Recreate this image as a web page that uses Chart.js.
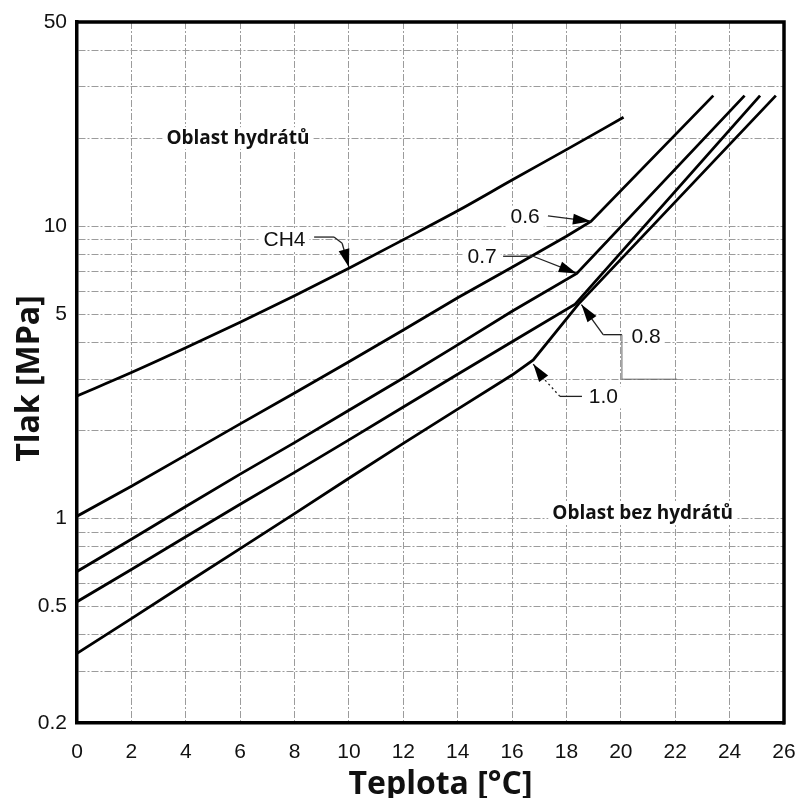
<!DOCTYPE html>
<html>
<head>
<meta charset="utf-8">
<script src="https://cdn.jsdelivr.net/npm/chart.js@4.4.1/dist/chart.umd.min.js"></script>
<style>
html,body{margin:0;padding:0;background:#fff;}
#wrap{width:801px;height:798px;position:relative;}
</style>
</head>
<body>
<div id="wrap"><canvas id="c" width="801" height="798"></canvas></div>
<script>
// ---- tick / grid values ----
const xTickValues = [0,2,4,6,8,10,12,14,16,18,20,22,24,26];
const yGridValues = [0.2,0.3,0.4,0.5,0.6,0.7,0.8,0.9,1,2,3,4,5,6,7,8,9,10,20,30,40,50];
const yLabelValues = [0.2,0.5,1,5,10,50];

// ---- series (temperature °C, pressure MPa) ----
const tempCH4 = [0,2,4,6,8,10,12,14,16,18,20.1];
const presCH4 = [2.63,3.16,3.84,4.7,5.79,7.19,9.0,11.3,14.4,18.3,23.6];

const temp06 = [0,2,4,6,8,10,12,14,16,18,18.9,23.4];
const pres06 = [1.02,1.29,1.65,2.11,2.69,3.44,4.42,5.7,7.25,9.25,10.4,28];

const temp07 = [0,2,4,6,8,10,12,14,16,18.38,24.55];
const pres07 = [0.66,0.85,1.1,1.42,1.82,2.35,3.03,3.93,5.12,6.9,28];

const temp08 = [0,2,4,6,8,10,12,14,16,18.32,25.12];
const pres08 = [0.52,0.67,0.867,1.12,1.44,1.86,2.41,3.12,4.03,5.42,28];

const temp10 = [0,2,4,6,8,10,12,14,16,16.78,18.44,25.7];
const pres10 = [0.346,0.455,0.6,0.79,1.04,1.375,1.81,2.37,3.1,3.49,5.42,28];

const seriesNames = ['CH4','0.6','0.7','0.8','1.0'];

// ---- annotations (data coordinates) ----
const annotationTexts = [
  {text:'Oblast hydrátů', x:5.92, y:19.1, kind:'region'},
  {text:'Oblast bez hydrátů', x:20.8, y:1.0, kind:'region'},
  {text:'CH4', x:7.63, y:8.56, kind:'label'},
  {text:'0.6', x:16.48, y:10.29, kind:'label'},
  {text:'0.7', x:14.9, y:7.47, kind:'label'},
  {text:'0.8', x:20.93, y:3.98, kind:'label'},
  {text:'1.0', x:19.36, y:2.48, kind:'label'}
];
const leaderLines = [
  {pts:[[8.72,9.19],[9.45,9.19],[9.75,8.75],[10,7.25]], arrow:true},
  {pts:[[17.32,10.85],[18.9,10.4]], arrow:true},
  {pts:[[15.67,7.9],[16.77,7.9],[18.38,6.9]], arrow:true},
  {pts:[[20.04,4.26],[19.35,4.26],[18.55,5.4]], arrow:true},
  {pts:[[20.04,4.26],[20.04,3.0],[22.07,3.0]], arrow:false, thin:true},
  {pts:[[17.76,2.62],[17.14,3.03],[16.78,3.38]], arrow:true, dotFirst:true},
  {pts:[[17.76,2.62],[18.57,2.62]], arrow:false}
];

function toXY(t, p){ return t.map((v,i)=>({x:v, y:p[i]})); }

const lineStyle = {borderColor:'#000', borderWidth:2.8, pointRadius:0, pointHoverRadius:0, fill:false, tension:0};

const drawPlugin = {
  id:'extras',
  afterDatasetsDraw(chart){
    const ctx = chart.ctx;
    const xs = chart.scales.x, ys = chart.scales.y;
    const px = v => xs.getPixelForValue(v);
    const py = v => ys.getPixelForValue(v);
    const a = chart.chartArea;
    ctx.save();
    // frame top / right
    ctx.strokeStyle = '#000';
    ctx.lineWidth = 3.5;
    ctx.beginPath();
    ctx.moveTo(a.left-1.5, a.top);
    ctx.lineTo(a.right, a.top);
    ctx.lineTo(a.right, a.bottom+1.5);
    ctx.stroke();

    // texts with white background
    annotationTexts.forEach(t=>{
      ctx.font = t.kind==='region' ? 'bold 19px "Open Sans"' : '21px "Liberation Sans"';
      ctx.textAlign = 'center';
      ctx.textBaseline = 'alphabetic';
      const w = ctx.measureText(t.text).width;
      const X = px(t.x), Y = py(t.y);
      ctx.fillStyle = '#fff';
      ctx.fillRect(X - w/2 - 4, Y - 17, w + 8, 22);
      ctx.fillStyle = '#111';
      ctx.fillText(t.text, X, Y);
    });

    // leader lines + arrows
    leaderLines.forEach(l=>{
      const P = l.pts.map(p=>[px(p[0]), py(p[1])]);
      ctx.strokeStyle = l.thin ? '#666' : '#222';
      ctx.lineWidth = l.thin ? 1 : 1.3;
      for(let i=0;i<P.length-1;i++){
        ctx.setLineDash(l.dotFirst && i===0 ? [2,3] : []);
        ctx.beginPath();
        ctx.moveTo(P[i][0],P[i][1]);
        ctx.lineTo(P[i+1][0],P[i+1][1]);
        ctx.stroke();
      }
      ctx.setLineDash([]);
      if(l.arrow){
        const n = P.length;
        const tip = P[n-1], prev = P[n-2];
        const ang = Math.atan2(tip[1]-prev[1], tip[0]-prev[0]);
        const L = 18, W = 5.5;
        ctx.fillStyle = '#000';
        ctx.beginPath();
        ctx.moveTo(tip[0], tip[1]);
        ctx.lineTo(tip[0] - L*Math.cos(ang) + W*Math.sin(ang), tip[1] - L*Math.sin(ang) - W*Math.cos(ang));
        ctx.lineTo(tip[0] - L*Math.cos(ang) - W*Math.sin(ang), tip[1] - L*Math.sin(ang) + W*Math.cos(ang));
        ctx.closePath();
        ctx.fill();
      }
    });

    // axis titles
    ctx.fillStyle = '#111';
    ctx.font = 'bold 32px "Open Sans"';
    ctx.textAlign = 'center';
    ctx.textBaseline = 'alphabetic';
    ctx.fillText('Teplota [°C]', (a.left + a.right)/2 + 10, 794);
    ctx.save();
    ctx.translate(39, (a.top + a.bottom)/2 + 6);
    ctx.rotate(-Math.PI/2);
    ctx.fillText('Tlak [MPa]', 0, 0);
    ctx.restore();
    ctx.restore();
  }
};

const gridDash = [7,2,2,2];

new Chart(document.getElementById('c'), {
  type:'line',
  data:{
    datasets:[
      Object.assign({}, lineStyle, {label:seriesNames[0], data:toXY(tempCH4,presCH4), cubicInterpolationMode:'monotone'}),
      Object.assign({}, lineStyle, {label:seriesNames[1], data:toXY(temp06,pres06)}),
      Object.assign({}, lineStyle, {label:seriesNames[2], data:toXY(temp07,pres07)}),
      Object.assign({}, lineStyle, {label:seriesNames[3], data:toXY(temp08,pres08)}),
      Object.assign({}, lineStyle, {label:seriesNames[4], data:toXY(temp10,pres10)})
    ]
  },
  options:{
    responsive:false,
    animation:false,
    devicePixelRatio:1,
    layout:{padding:{top:22,right:17,bottom:0,left:0}},
    plugins:{legend:{display:false}, tooltip:{enabled:false}},
    events:[],
    scales:{
      x:{
        type:'linear', min:0, max:26,
        afterBuildTicks(s){ s.ticks = xTickValues.map(v=>({value:v})); },
        afterFit(s){ s.height = 75; s.paddingLeft = 0; s.paddingRight = 0; },
        ticks:{autoSkip:false, maxRotation:0, padding:17, color:'#111',
               font:{family:'"Liberation Sans", Arial, sans-serif', size:21},
               callback:v=>String(v)},
        grid:{color:'#9c9c9c', lineWidth:1, drawTicks:false},
        border:{display:true, color:'#000', width:3.5, dash:gridDash}
      },
      y:{
        type:'logarithmic', min:0.2, max:50,
        afterBuildTicks(s){ s.ticks = yGridValues.map(v=>({value:v})); },
        afterFit(s){ s.width = 77; s.paddingTop = 0; s.paddingBottom = 0; },
        ticks:{autoSkip:false, padding:10, color:'#111',
               font:{family:'"Liberation Sans", Arial, sans-serif', size:21},
               callback:v=> yLabelValues.includes(v) ? String(v) : ''},
        grid:{color:'#9c9c9c', lineWidth:1, drawTicks:false},
        border:{display:true, color:'#000', width:3.5, dash:gridDash}
      }
    }
  },
  plugins:[drawPlugin]
});
</script>
</body>
</html>
